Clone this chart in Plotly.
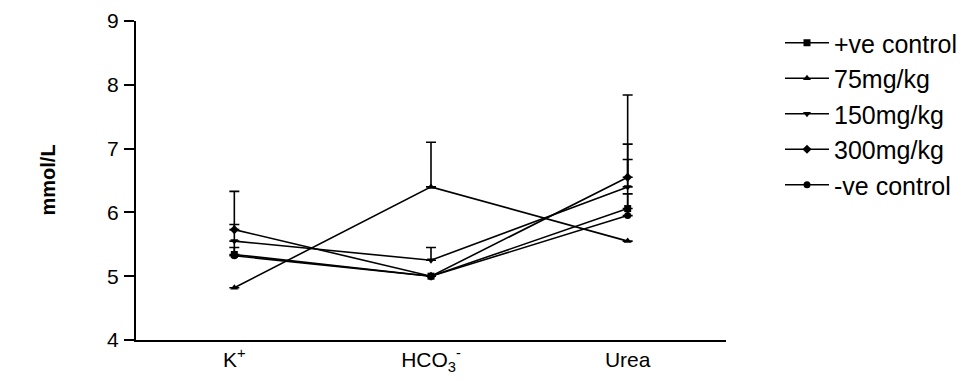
import plotly.graph_objects as go

categories = ["K+", "HCO3-", "Urea"]
tick_labels = ["K<sup>+</sup>", "HCO<sub>3</sub><sup>-</sup>", "Urea"]

series_names = ["+ve control", "75mg/kg", "150mg/kg", "300mg/kg", "-ve control"]
pos_control = [5.34, 5.00, 6.06]
mg75 = [4.82, 6.40, 5.55]
mg150 = [5.55, 5.25, 6.40]
mg300 = [5.73, 5.00, 6.55]
neg_control = [5.32, 5.00, 5.95]

err_pos_control = [0.11, 0.0, 0.77]
err_mg75 = [0.0, 0.70, 0.0]
err_mg150 = [0.0, 0.20, 0.67]
err_mg300 = [0.08, 0.0, 1.29]
err_neg_control = [1.01, 0.0, 0.34]

symbols = ["square", "triangle-up", "triangle-down", "diamond", "circle"]
values = [pos_control, mg75, mg150, mg300, neg_control]
errors = [err_pos_control, err_mg75, err_mg150, err_mg300, err_neg_control]

fig = go.Figure()
for i, (name, vals, errs, sym) in enumerate(zip(series_names, values, errors, symbols)):
    fig.add_trace(go.Scatter(
        x=[0, 1, 2], y=vals, name=name, mode="lines+markers",
        legendgroup="g%d" % i,
        line=dict(color="black", width=1.6),
        marker=dict(symbol=sym, size=7, color="black"),
        error_y=dict(type="data", symmetric=False, array=errs,
                     arrayminus=[0, 0, 0], color="black", thickness=1.6, width=5),
    ))

fig.update_layout(
    width=963, height=381,
    margin=dict(l=136, r=237, t=21, b=41, autoexpand=False),
    paper_bgcolor="white", plot_bgcolor="white",
    font=dict(family="Liberation Sans, Arial", size=21, color="black"),
    showlegend=True,
    legend=dict(xref="container", yref="container",
                x=780 / 963, y=1 - 20 / 381, xanchor="left", yanchor="top",
                font=dict(size=25), tracegroupgap=0, itemwidth=44,
                maxheight=1.0,
                bgcolor="rgba(0,0,0,0)"),
    xaxis=dict(range=[-0.5, 2.5], tickvals=[0, 1, 2], ticktext=tick_labels,
               showline=True, linecolor="black", linewidth=2,
               showgrid=False, zeroline=False, ticks=""),
    yaxis=dict(range=[4, 9], tickvals=[4, 5, 6, 7, 8, 9],
               showline=True, linecolor="black", linewidth=2,
               showgrid=False, zeroline=False, ticks="outside",
               ticklen=10, tickwidth=2, tickcolor="black",
               ticklabelstandoff=1),
    annotations=[dict(text="<b>mmol/L</b>", xref="paper", yref="paper",
                      x=(47 - 136) / 590, y=0.5, textangle=-90,
                      showarrow=False, xanchor="center", yanchor="middle",
                      font=dict(size=20))],
)

fig.write_html("out.html")
